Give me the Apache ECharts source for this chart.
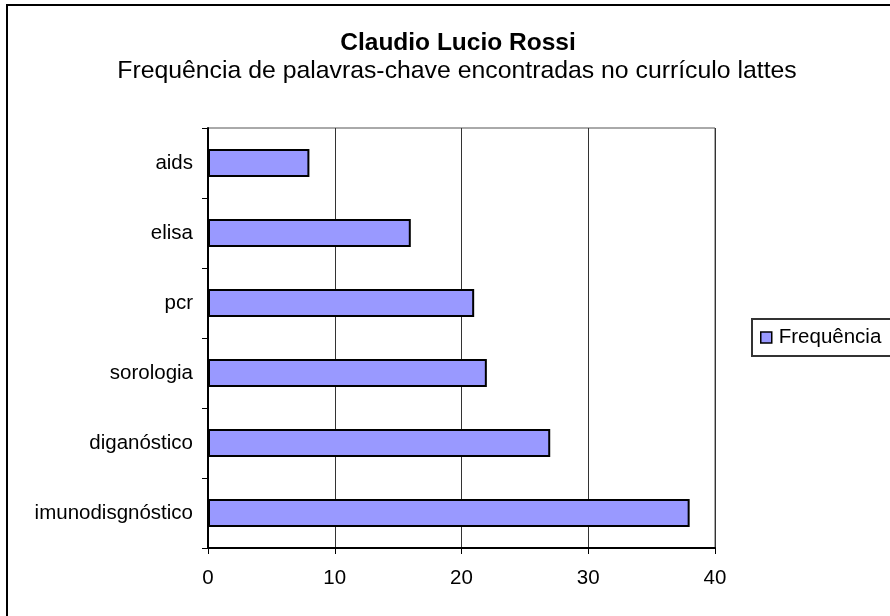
<!DOCTYPE html>
<html>
<head>
<meta charset="utf-8">
<script src="https://cdn.jsdelivr.net/npm/echarts@6/dist/echarts.min.js"></script>
<style>
  html, body { margin: 0; padding: 0; background: #fff; }
  #main_1 { width: 890px; height: 616px; }
</style>
</head>
<body>
<div id="main_1"></div>
<script>
const categories = ["aids", "elisa", "pcr", "sorologia", "diganóstico", "imunodisgnóstico"];
const frequencia = [8, 16, 21, 22, 27, 38];
const xTicks = [0, 10, 20, 30, 40];

const font = "'Liberation Sans', Arial, sans-serif";

const chartDom = document.getElementById("main_1");
const myChart = echarts.init(chartDom, null, { renderer: "canvas" });

const option = {
  backgroundColor: "#fff",
  animation: false,
  title: [
    {
      text: "Claudio Lucio Rossi",
      left: 453,
      top: 26,
      textAlign: "center",
      textStyle: { fontFamily: font, fontSize: 24.5, fontWeight: "bold", color: "#000" }
    },
    {
      text: "Frequência de palavras-chave encontradas no currículo lattes",
      left: 452,
      top: 54,
      textAlign: "center",
      textStyle: { fontFamily: font, fontSize: 24.8, fontWeight: "normal", color: "#000" }
    }
  ],
  graphic: [
    {
      type: "rect",
      shape: { x: 7, y: 5, width: 900, height: 700 },
      style: { fill: "none", stroke: "#000", lineWidth: 2 },
      silent: true
    }
  ],
  legend: {
    left: 752,
    top: 319,
    orient: "vertical",
    padding: [8, 30, 8, 8],
    borderColor: "#333",
    borderWidth: 2,
    itemWidth: 11,
    itemHeight: 11,
    icon: "rect",
    itemStyle: { borderColor: "#000", borderWidth: 1.5 },
    textStyle: { fontFamily: font, fontSize: 20.5, color: "#000", padding: [0, 0, 0, 2] },
    data: ["Frequência"]
  },
  grid: {
    left: 208,
    right: 175,
    top: 128,
    bottom: 68,
    show: true,
    borderColor: "#555",
    borderWidth: 1
  },
  xAxis: {
    type: "value",
    min: xTicks[0],
    max: xTicks[xTicks.length - 1],
    interval: 10,
    axisLine: { show: true, lineStyle: { color: "#000", width: 2 } },
    axisTick: { show: true, length: 6, lineStyle: { color: "#000", width: 1 } },
    axisLabel: { fontFamily: font, fontSize: 20.5, color: "#000", margin: 20 },
    splitLine: { show: true, lineStyle: { color: "#333", width: 1 } }
  },
  yAxis: {
    type: "category",
    data: categories,
    inverse: true,
    axisLine: { show: true, lineStyle: { color: "#000", width: 2 } },
    axisTick: { show: true, length: 6, alignWithLabel: false, lineStyle: { color: "#000", width: 1 } },
    axisLabel: { fontFamily: font, fontSize: 20.5, color: "#000", margin: 15 },
    splitLine: { show: false }
  },
  series: [
    {
      name: "Frequência",
      type: "bar",
      data: frequencia,
      barCategoryGap: "60%",
      itemStyle: { color: "#9999ff", borderColor: "#000", borderWidth: 2 }
    }
  ]
};

option && myChart.setOption(option);
</script>
</body>
</html>
